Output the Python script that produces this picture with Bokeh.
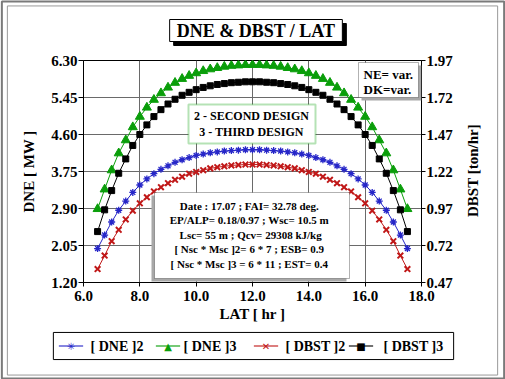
import math
from bokeh.plotting import figure
from bokeh.models import (Range1d, LinearAxis, FixedTicker, PrintfTickFormatter,
                          Label, BoxAnnotation)
from bokeh.embed import file_html
from bokeh.resources import INLINE

# ---------------- data ----------------
lat = [6.5, 6.75, 7.0, 7.25, 7.5, 7.75, 8.0, 8.25, 8.5, 8.75, 9.0, 9.25, 9.5, 9.75,
       10.0, 10.25, 10.5, 10.75, 11.0, 11.25, 11.5, 11.75, 12.0, 12.25, 12.5, 12.75,
       13.0, 13.25, 13.5, 13.75, 14.0, 14.25, 14.5, 14.75, 15.0, 15.25, 15.5, 15.75,
       16.0, 16.25, 16.5, 16.75, 17.0, 17.25, 17.5]

dne2 = [1.98, 2.29, 2.59, 2.86, 3.07, 3.27, 3.44, 3.58, 3.70, 3.80, 3.88, 3.96, 4.02,
        4.07, 4.12, 4.15, 4.18, 4.20, 4.22, 4.23, 4.24, 4.25, 4.25, 4.25, 4.24, 4.23,
        4.22, 4.20, 4.18, 4.15, 4.12, 4.07, 4.02, 3.96, 3.88, 3.80, 3.70, 3.58, 3.44,
        3.27, 3.07, 2.86, 2.59, 2.29, 1.98]

dne3 = [2.89, 3.34, 3.78, 4.17, 4.47, 4.77, 5.01, 5.22, 5.40, 5.55, 5.68, 5.79, 5.88,
        5.95, 6.01, 6.06, 6.10, 6.13, 6.16, 6.18, 6.19, 6.20, 6.20, 6.20, 6.19, 6.18,
        6.16, 6.13, 6.10, 6.06, 6.01, 5.95, 5.88, 5.79, 5.68, 5.55, 5.40, 5.22, 5.01,
        4.77, 4.47, 4.17, 3.78, 3.34, 2.89]

dbst2 = [0.561, 0.652, 0.749, 0.826, 0.896, 0.955, 1.005, 1.046, 1.085, 1.114, 1.141,
         1.164, 1.185, 1.205, 1.217, 1.229, 1.241, 1.249, 1.255, 1.261, 1.264, 1.267,
         1.267, 1.267, 1.264, 1.261, 1.255, 1.249, 1.241, 1.229, 1.217, 1.205, 1.185,
         1.164, 1.141, 1.114, 1.085, 1.046, 1.005, 0.955, 0.896, 0.826, 0.749, 0.652,
         0.561]

dbst3 = [0.814, 0.961, 1.091, 1.208, 1.305, 1.396, 1.470, 1.535, 1.591, 1.638, 1.676,
         1.708, 1.735, 1.755, 1.773, 1.788, 1.799, 1.808, 1.814, 1.820, 1.823, 1.826,
         1.826, 1.826, 1.823, 1.820, 1.814, 1.808, 1.799, 1.788, 1.773, 1.755, 1.735,
         1.708, 1.676, 1.638, 1.591, 1.535, 1.470, 1.396, 1.305, 1.208, 1.091, 0.961,
         0.814]

x_ticks = [6.0, 8.0, 10.0, 12.0, 14.0, 16.0, 18.0]
left_ticks = [1.20, 2.05, 2.90, 3.75, 4.60, 5.45, 6.30]
right_ticks = [0.47, 0.72, 0.97, 1.22, 1.47, 1.72, 1.97]

series_names = ["[ DNE ]2", "[ DNE ]3", "[ DBST ]2", "[ DBST ]3"]
series_symbols = ["\u2733", "\u25B2", "\u2715", "\u25A0"]

title_text = "DNE & DBST / LAT"
right_label_text = "DBST [ton/hr]"
info_lines = ["Date : 17.07  ;  FAI= 32.78 deg.",
              "EP/ALP= 0.18/0.97  ;  Wsc= 10.5 m",
              "Lsc= 55 m  ; Qcv= 29308 kJ/kg",
              "[ Nsc * Msc ]2= 6 * 7  ;  ESB= 0.9",
              "[ Nsc * Msc ]3 = 6 * 11  ;  EST= 0.4"]
design_lines = ["2 - SECOND DESIGN", "3 - THIRD DESIGN"]
param_lines = ["NE= var.", "DK=var."]

# ---------------- styling ----------------
FONT = "Liberation Serif"
BLUE = "#2626c8"
GREEN = "#0a9e0a"
RED = "#c01818"
BLACK = "#000000"
COLORS = [BLUE, GREEN, RED, BLACK]

# reference screen frame geometry (page px) -> data coordinate helpers
SX0, SX1, SY0, SY1 = 83.0, 421.0, 60.0, 282.0
XMIN, XMAX, YMIN, YMAX = 6.0, 18.0, 1.20, 6.30


def dx(sx):
    return XMIN + (sx - SX0) * (XMAX - XMIN) / (SX1 - SX0)


def dy(sy):
    return YMAX - (sy - SY0) * (YMAX - YMIN) / (SY1 - SY0)


p = figure(frame_width=338, frame_height=222,
           x_range=Range1d(XMIN, XMAX), y_range=Range1d(YMIN, YMAX),
           output_backend="svg", toolbar_location=None,
           min_border_left=83, min_border_right=84,
           min_border_top=60, min_border_bottom=97)
p.extra_y_ranges = {"r": Range1d(0.47, 1.97)}
p.background_fill_color = "white"
p.border_fill_color = "white"
p.outline_line_color = "black"
p.outline_line_width = 1

# axes
p.xaxis.ticker = FixedTicker(ticks=x_ticks)
p.xaxis.formatter = PrintfTickFormatter(format="%.1f")
p.xaxis.axis_label = "LAT [ hr ]"
p.yaxis.ticker = FixedTicker(ticks=left_ticks)
p.yaxis.formatter = PrintfTickFormatter(format="%.2f")
p.yaxis.axis_label = "DNE [ MW ]"

raxis = LinearAxis(y_range_name="r", ticker=FixedTicker(ticks=right_ticks),
                   formatter=PrintfTickFormatter(format="%.2f"))
p.add_layout(raxis, "right")

for ax in [p.xaxis[0], p.yaxis[0], raxis]:
    ax.major_label_text_font = FONT
    ax.major_label_text_font_style = "bold"
    ax.major_label_text_font_size = "15px"
    ax.major_label_text_color = "black"
    ax.axis_label_text_font = FONT
    ax.axis_label_text_font_style = "bold"
    ax.axis_label_text_font_size = "15px"
    ax.axis_label_text_color = "black"
    ax.minor_tick_line_color = None
    ax.major_tick_in = 0
    ax.axis_line_color = "black"
    ax.major_tick_line_color = "black"

p.xaxis.major_tick_out = 4
p.xaxis.major_label_standoff = 4
p.xaxis.axis_label_standoff = 2
p.yaxis.major_tick_out = 5
p.yaxis.major_label_standoff = 1
p.yaxis.axis_label_standoff = 11
raxis.major_tick_out = 4
raxis.major_label_standoff = 1

p.xgrid.ticker = FixedTicker(ticks=x_ticks)
p.ygrid.ticker = FixedTicker(ticks=left_ticks)
p.grid.grid_line_color = "#6a6a6a"
p.grid.grid_line_width = 1

# ---------------- series ----------------
p.line(lat, dne2, color=BLUE, line_width=1)
p.scatter(lat, dne2, marker="asterisk", size=7, line_color=BLUE, line_width=1.3)
p.line(lat, dne3, color=GREEN, line_width=1)
p.scatter(lat, dne3, marker="triangle", size=9, fill_color=GREEN, line_color=GREEN)
p.line(lat, dbst2, color=RED, line_width=1, y_range_name="r")
p.scatter(lat, dbst2, marker="x", size=8, line_color=RED, line_width=2,
          y_range_name="r")
p.line(lat, dbst3, color=BLACK, line_width=1, y_range_name="r")
p.scatter(lat, dbst3, marker="square", size=6, fill_color=BLACK, line_color=BLACK,
          y_range_name="r")

# ---------------- boxes inside the plot ----------------
# info box (gray shadow to lower-left)
p.add_layout(BoxAnnotation(left=dx(151), right=dx(346), top=dy(195), bottom=dy(281),
                           fill_color="#a8a8a8", fill_alpha=1, line_color=None))
p.add_layout(BoxAnnotation(left=dx(154), right=dx(349), top=dy(192), bottom=dy(278),
                           fill_color="white", fill_alpha=1, line_color="black",
                           line_width=1))
for i, t in enumerate(info_lines):
    p.add_layout(Label(x=dx(251.5), y=dy(205 + i * 14.6), text=t, text_font=FONT,
                       text_font_style="bold", text_font_size="11px",
                       text_align="center", text_baseline="middle", text_color="black"))

# design box (green border)
p.add_layout(BoxAnnotation(left=dx(188), right=dx(315), top=dy(104), bottom=dy(143),
                           fill_color="white", fill_alpha=1, line_color=GREEN,
                           line_width=2))
for i, t in enumerate(design_lines):
    p.add_layout(Label(x=dx(251), y=dy(115.5 + i * 15.5), text=t, text_font=FONT,
                       text_font_style="bold", text_font_size="12px",
                       text_align="center", text_baseline="middle", text_color="black"))

# NE / DK box
p.add_layout(BoxAnnotation(left=dx(361), right=dx(421), top=dy(65), bottom=dy(100),
                           fill_color="#a8a8a8", fill_alpha=1, line_color=None))
p.add_layout(BoxAnnotation(left=dx(358), right=dx(418), top=dy(62), bottom=dy(97),
                           fill_color="white", fill_alpha=1, line_color="black",
                           line_width=1))
for i, t in enumerate(param_lines):
    p.add_layout(Label(x=dx(363), y=dy(73.5 + i * 15), text=t, text_font=FONT,
                       text_font_style="bold", text_font_size="13px",
                       text_align="left", text_baseline="middle", text_color="black"))

# ---------------- title box with shadow (in the top panel, so not clipped) ----------------
p.add_layout(Label(x=dx(259.5), y=dy(34), text=title_text, text_font=FONT,
                   text_font_style="bold", text_font_size="18px", text_align="center",
                   text_baseline="middle", text_color="black",
                   background_fill_color="black", border_line_color="black",
                   padding=dict(left=7, right=7, top=1, bottom=1)), "above")
p.add_layout(Label(x=dx(255.5), y=dy(30), text=title_text, text_font=FONT,
                   text_font_style="bold", text_font_size="18px", text_align="center",
                   text_baseline="middle", text_color="black",
                   background_fill_color="white", border_line_color="black",
                   border_line_width=1,
                   padding=dict(left=7, right=7, top=1, bottom=1)), "above")


def box_label(cx, cy, hw, hh, fill=None, line=None, lw=1):
    """an empty text label used as a rectangle outside the plot frame"""
    return Label(x=dx(cx), y=dy(cy), text=" ", text_font_size="1px",
                 text_align="center", text_baseline="middle",
                 background_fill_color=fill, border_line_color=line,
                 border_line_width=lw,
                 padding=dict(left=hw, right=hw, top=hh, bottom=hh))


# ---------------- right axis title, reading bottom-to-top ----------------
p.add_layout(Label(x=dx(472), y=dy(170), text=right_label_text, angle=math.pi / 2,
                   text_font=FONT, text_font_style="bold", text_font_size="15px",
                   text_color="black", text_align="center", text_baseline="middle"),
             "below")

# ---------------- outer double frame (bottom panel: not clipped) ----------------
p.add_layout(box_label(252.5, 189.5, 251, 188, line="#7a7a7a", lw=2), "below")
p.add_layout(box_label(252, 190, 245, 184, line="#9a9a9a", lw=1), "below")

# ---------------- legend (bottom panel) ----------------
p.add_layout(box_label(253, 345.5, 200, 13, fill="white", line="black", lw=1), "below")
line_x0 = [58, 155, 253, 348]
label_x0 = [90, 183, 285, 383]
for i in range(4):
    c = COLORS[i]
    p.add_layout(box_label(line_x0[i] + 12.5, 345.5, 12, 0, fill=c), "below")
    p.add_layout(Label(x=dx(line_x0[i] + 12.5), y=dy(345.5), text=series_symbols[i],
                       text_font="DejaVu Sans", text_font_size="10px",
                       text_color=c, text_align="center", text_baseline="middle"),
                 "below")
    p.add_layout(Label(x=dx(label_x0[i]), y=dy(345.5), text=series_names[i],
                       text_font=FONT, text_font_style="bold",
                       text_font_size="14px", text_color="black",
                       text_align="left", text_baseline="middle"), "below")

open("out.html", "w").write(file_html(p, INLINE))
